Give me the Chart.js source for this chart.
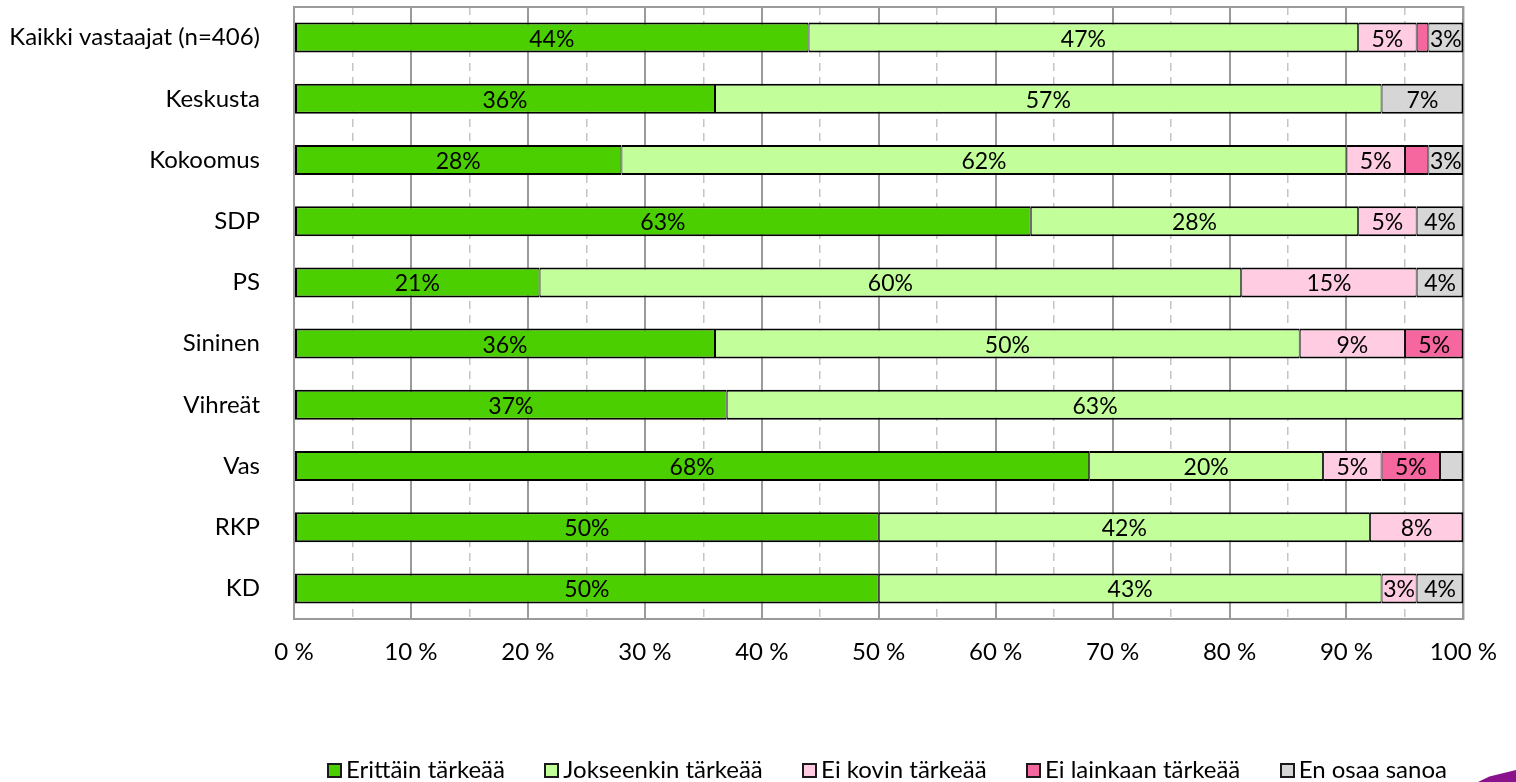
<!DOCTYPE html>
<html lang="fi">
<head>
<meta charset="utf-8">
<title>Tärkeys puolueittain</title>
<script src="https://cdn.jsdelivr.net/npm/chart.js@4/dist/chart.umd.min.js"></script>
<style>
  html, body { margin: 0; padding: 0; background: #fff; }
  #wrap { position: relative; width: 1516px; height: 782px; overflow: hidden; }
  #legend {
    position: absolute; left: 327px; top: 755px; width: 1120px;
    display: flex; justify-content: space-between; align-items: center;
    font: 24px Lato, sans-serif; line-height: 28px; color: #000;
  }
  #legend .item { display: flex; align-items: center; white-space: nowrap; }
  #legend .box {
    width: 11px; height: 11px; border: 2px solid #1a1a1a;
    margin-right: 4px; position: relative; top: 1px;
  }
  #logo {
    position: absolute; left: 1478px; top: 770px; width: 38px; height: 12px;
    background: #8a128c;
    clip-path: polygon(0 100%, 30% 55%, 100% 0, 100% 100%);
  }
</style>
</head>
<body>
<div id="wrap">
  <canvas id="chart" width="1516" height="782"></canvas>
  <div id="legend"></div>
  <div id="logo"></div>
</div>
<script>
// categories, top to bottom
const categories = ['Kaikki vastaajat (n=406)', 'Keskusta', 'Kokoomus', 'SDP', 'PS',
                    'Sininen', 'Vihreät', 'Vas', 'RKP', 'KD'];

// series values in %
const erittain   = [44, 36, 28, 63, 21, 36, 37, 68, 50, 50];
const jokseenkin = [47, 57, 62, 28, 60, 50, 63, 20, 42, 43];
const eiKovin    = [ 5,  0,  5,  5, 15,  9,  0,  5,  8,  3];
const eiLainkaan = [ 1,  0,  2,  0,  0,  5,  0,  5,  0,  0];
const enOsaa     = [ 3,  7,  3,  4,  4,  0,  0,  2,  0,  4];

const seriesNames = ['Erittäin tärkeää', 'Jokseenkin tärkeää', 'Ei kovin tärkeää',
                     'Ei lainkaan tärkeää', 'En osaa sanoa'];
const seriesColors = ['#4ccf00', '#c2ff9a', '#ffcce1', '#f6669f', '#d6d6d6'];
const series = [erittain, jokseenkin, eiKovin, eiLainkaan, enOsaa];

// x axis tick labels every 10 %
const xTicks = [0, 10, 20, 30, 40, 50, 60, 70, 80, 90, 100];

const FONT = 'Lato, sans-serif';
const GRID = '#9a9a9a';

// draws the value into the middle of each segment (small ones left blank)
const barLabels = {
  id: 'barLabels',
  afterDatasetsDraw(chart) {
    const ctx = chart.ctx;
    ctx.save();
    ctx.font = '23px ' + FONT;
    ctx.fillStyle = '#000';
    ctx.textAlign = 'center';
    ctx.textBaseline = 'middle';
    series.forEach((vals, i) => {
      chart.getDatasetMeta(i).data.forEach((bar, j) => {
        const v = vals[j];
        if (v < 3) return;
        ctx.fillText(v + '%', (bar.x + bar.base) / 2, bar.y + 1.5);
      });
    });
    ctx.restore();
  }
};

// grey box round the plot area
const frame = {
  id: 'frame',
  beforeDatasetsDraw(chart) {
    const a = chart.chartArea, ctx = chart.ctx;
    ctx.save();
    ctx.strokeStyle = GRID;
    ctx.lineWidth = 2;
    ctx.strokeRect(a.left, a.top, a.right - a.left, a.bottom - a.top);
    ctx.restore();
  }
};

function segBorder(ctx) {
  const i = ctx.datasetIndex, j = ctx.dataIndex;
  if (j === undefined) return 2;
  const later = series.slice(i + 1).some(s => s[j] > 0);
  return { top: 2, bottom: 2, left: i === 0 ? 2 : 1, right: later ? 1 : 2 };
}

function draw() {
  const datasets = series.map((vals, i) => ({
    label: seriesNames[i],
    data: vals.map(v => v > 0 ? v : null),
    backgroundColor: seriesColors[i],
    borderColor: '#000',
    borderWidth: segBorder,
    borderSkipped: false,
    barPercentage: 0.49,
    categoryPercentage: 1
  }));

  new Chart(document.getElementById('chart'), {
    type: 'bar',
    data: { labels: categories, datasets: datasets },
    options: {
      indexAxis: 'y',
      responsive: false,
      animation: false,
      layout: { padding: { top: 7, right: 48, left: 0, bottom: 0 } },
      plugins: {
        legend: { display: false },
        tooltip: { enabled: false }
      },
      scales: {
        x: {
          type: 'linear',
          stacked: true,
          min: 0, max: 100,
          afterBuildTicks: s => { s.ticks = xTicks.map(v => ({ value: v })); },
          afterFit: s => { s.height = 163; },
          ticks: {
            padding: 19,
            color: '#000',
            font: { family: FONT, size: 24 },
            callback: v => v + ' %'
          },
          grid: { color: GRID, lineWidth: 2, drawTicks: false },
          border: { display: false }
        },
        x2: {
          type: 'linear',
          position: 'bottom',
          min: 0, max: 100,
          afterFit: s => { s.height = 0; },
          ticks: { display: false, stepSize: 5 },
          grid: {
            drawTicks: false,
            lineWidth: 1.5,
            color: c => (c.tick && c.tick.value % 10 !== 0) ? '#c4c4c4' : 'rgba(0,0,0,0)'
          },
          border: { display: false, dash: [8, 6] }
        },
        y: {
          stacked: true,
          afterFit: s => { s.width = 294; s.paddingTop = 0; s.paddingBottom = 0; },
          ticks: {
            padding: 26,
            color: '#000',
            font: { family: FONT, size: 24 }
          },
          grid: { display: false },
          border: { display: false }
        }
      }
    },
    plugins: [frame, barLabels]
  });

  const legend = document.getElementById('legend');
  seriesNames.forEach((name, i) => {
    const item = document.createElement('div');
    item.className = 'item';
    const box = document.createElement('span');
    box.className = 'box';
    box.style.background = seriesColors[i];
    const txt = document.createElement('span');
    txt.textContent = name;
    item.appendChild(box);
    item.appendChild(txt);
    legend.appendChild(item);
  });
}

if (document.fonts && document.fonts.load) {
  document.fonts.load('24px Lato').then(draw, draw);
} else {
  draw();
}
</script>
</body>
</html>
